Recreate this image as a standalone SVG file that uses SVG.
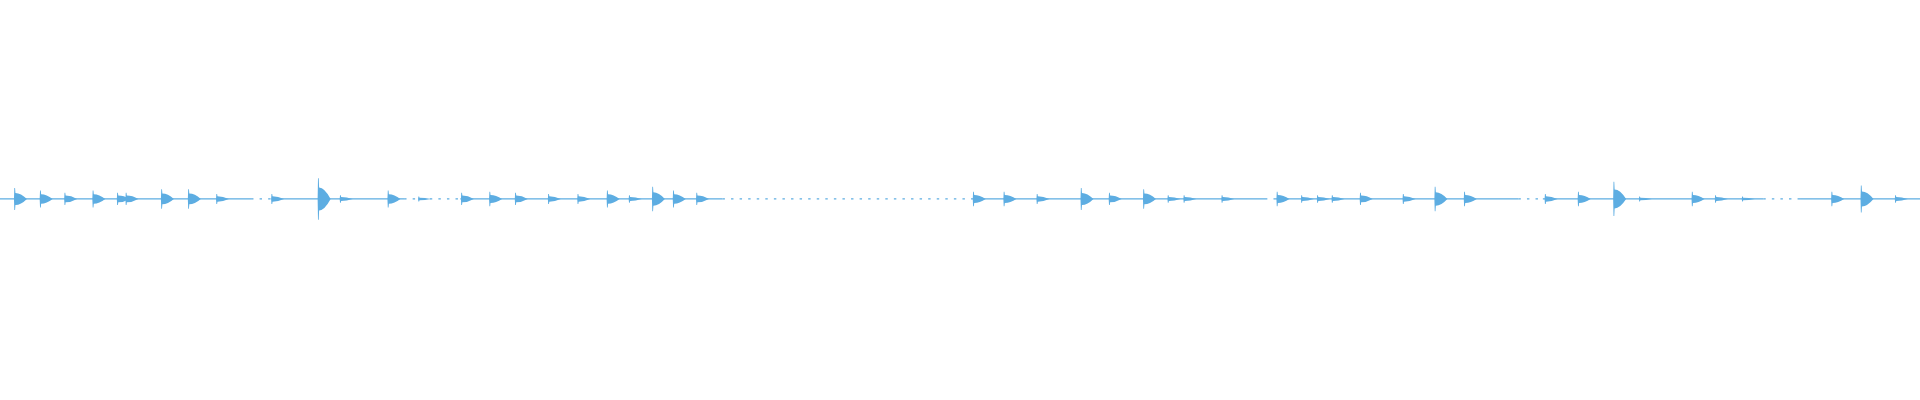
<svg xmlns="http://www.w3.org/2000/svg" width="1920" height="400" viewBox="0 0 1920 400">
<defs>
<style>.b{fill:#5dade2}.l{stroke:#5dade2;stroke-width:1;fill:none}.d{stroke:#5dade2;stroke-width:1;stroke-dasharray:2 5;fill:none}</style>
<path id="p" d="M-0.6,0 L-0.3,-1 L0.3,-1 L0.6,-0.55 Q5,-0.55 10,0 Q5,0.55 0.6,0.55 L0.3,1 L-0.3,1 Z"/>
</defs>
<rect width="1920" height="400" fill="#fff"/>
<g transform="scale(1.2245)">
<g id="baseline">
<path class="l" d="M0,162.5H205M222,162.5H330M376,162.5H590M793,162.5H1035M1040,162.5H1240M1260,162.5H1440M1470,162.5H1568"/>
<path class="d" d="M205,162.5H222M330,162.5H376M590,162.5H793M1240,162.5H1260M1440,162.5H1470"/>
</g>
<g id="bursts" class="b">
<use href="#p" transform="translate(12,162.5) scale(1,9)"/>
<use href="#p" transform="translate(33,162.5) scale(1,7)"/>
<use href="#p" transform="translate(53,162.5) scale(1,5)"/>
<use href="#p" transform="translate(76,162.5) scale(1,7)"/>
<use href="#p" transform="translate(96,162.5) scale(1,5)"/>
<use href="#p" transform="translate(103,162.5) scale(1,5)"/>
<use href="#p" transform="translate(132,162.5) scale(1,8)"/>
<use href="#p" transform="translate(154,162.5) scale(1,8)"/>
<use href="#p" transform="translate(177,162.5) scale(1,4)"/>
<use href="#p" transform="translate(222,162.5) scale(1,4)"/>
<use href="#p" transform="translate(260,162.5) scale(1,17)"/>
<use href="#p" transform="translate(278,162.5) scale(1,3)"/>
<use href="#p" transform="translate(317,162.5) scale(1,7)"/>
<use href="#p" transform="translate(342,162.5) scale(1,2)"/>
<use href="#p" transform="translate(377,162.5) scale(1,5)"/>
<use href="#p" transform="translate(400,162.5) scale(1,6)"/>
<use href="#p" transform="translate(421,162.5) scale(1,5)"/>
<use href="#p" transform="translate(448,162.5) scale(1,4)"/>
<use href="#p" transform="translate(472,162.5) scale(1,4)"/>
<use href="#p" transform="translate(496,162.5) scale(1,7)"/>
<use href="#p" transform="translate(514,162.5) scale(1,3)"/>
<use href="#p" transform="translate(533,162.5) scale(1,10)"/>
<use href="#p" transform="translate(550,162.5) scale(1,7)"/>
<use href="#p" transform="translate(569,162.5) scale(1,5)"/>
<use href="#p" transform="translate(795,162.5) scale(1,6)"/>
<use href="#p" transform="translate(820,162.5) scale(1,6)"/>
<use href="#p" transform="translate(847,162.5) scale(1,4)"/>
<use href="#p" transform="translate(883,162.5) scale(1,9)"/>
<use href="#p" transform="translate(906,162.5) scale(1,5)"/>
<use href="#p" transform="translate(934,162.5) scale(1,8)"/>
<use href="#p" transform="translate(954,162.5) scale(1,3)"/>
<use href="#p" transform="translate(967,162.5) scale(1,3)"/>
<use href="#p" transform="translate(998,162.5) scale(1,3)"/>
<use href="#p" transform="translate(1043,162.5) scale(1,6)"/>
<use href="#p" transform="translate(1063,162.5) scale(1,3)"/>
<use href="#p" transform="translate(1076,162.5) scale(1,3)"/>
<use href="#p" transform="translate(1088,162.5) scale(1,3)"/>
<use href="#p" transform="translate(1111,162.5) scale(1,5)"/>
<use href="#p" transform="translate(1146,162.5) scale(1,4)"/>
<use href="#p" transform="translate(1172,162.5) scale(1,10)"/>
<use href="#p" transform="translate(1196,162.5) scale(1,6)"/>
<use href="#p" transform="translate(1262,162.5) scale(1,4)"/>
<use href="#p" transform="translate(1289,162.5) scale(1,6)"/>
<use href="#p" transform="translate(1318,162.5) scale(1,14)"/>
<use href="#p" transform="translate(1339,162.5) scale(1,2)"/>
<use href="#p" transform="translate(1382,162.5) scale(1,6)"/>
<use href="#p" transform="translate(1401,162.5) scale(1,3)"/>
<use href="#p" transform="translate(1423,162.5) scale(1,2)"/>
<use href="#p" transform="translate(1496,162.5) scale(1,6)"/>
<use href="#p" transform="translate(1520,162.5) scale(1,11)"/>
<use href="#p" transform="translate(1548,162.5) scale(1,3)"/>
</g>
</g>
</svg>
